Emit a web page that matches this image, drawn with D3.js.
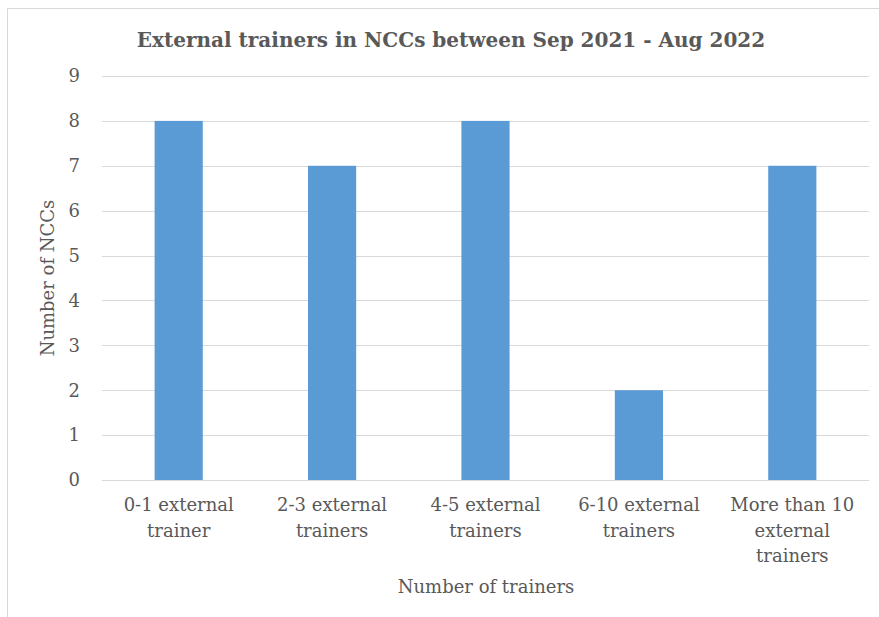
<!DOCTYPE html>
<html><head><meta charset="utf-8">
<script src="https://cdn.jsdelivr.net/npm/d3@7"></script>
<style>body{margin:0;background:#fff}svg{display:block}svg text{font-family:"DejaVu Serif","Liberation Serif",serif}</style>
</head><body>
<script>
const categories = [["0-1 external","trainer"],["2-3 external","trainers"],["4-5 external","trainers"],["6-10 external","trainers"],["More than 10","external","trainers"]];
const values = [8,7,8,2,7];
const yTicks = [0,1,2,3,4,5,6,7,8,9];
const title = "External trainers in NCCs between Sep 2021 - Aug 2022";
const xTitle = "Number of trainers";
const yTitle = "Number of NCCs";

(function(){
const W=879,H=617;
const svg=d3.select("body").append("svg").attr("width",W).attr("height",H);
const txt="#595959";
svg.append("path").attr("d","M7.5,617 V8.5 H879").attr("fill","none").attr("stroke","#d9d9d9").attr("stroke-width",1);

const pL=102,pR=869,pT=76,pB=480;
const x=d3.scaleBand().domain(d3.range(categories.length)).range([pL,pR]).paddingInner(0.686).paddingOuter(0.343);
const y=d3.scaleLinear().domain([0,9]).range([pB,pT]);

const g=svg.append("g");
g.selectAll("line.grid").data(yTicks).join("line")
 .attr("x1",pL).attr("x2",pR).attr("y1",d=>Math.round(y(d))+0.5).attr("y2",d=>Math.round(y(d))+0.5)
 .attr("stroke","#d9d9d9").attr("stroke-width",1);
g.selectAll("rect").data(values).join("rect")
 .attr("x",(d,i)=>x(i)).attr("width",x.bandwidth())
 .attr("y",d=>y(d)).attr("height",d=>y(0)-y(d)).attr("fill","#5b9bd5");
g.selectAll("text.yt").data(yTicks).join("text")
 .attr("x",80).attr("y",d=>y(d)).attr("dy","0.35em").attr("text-anchor","end")
 .attr("font-size",18).attr("fill",txt).text(d=>d);
categories.forEach((lines,i)=>{
  const t=g.append("text").attr("text-anchor","middle").attr("font-size",18).attr("fill",txt);
  lines.forEach((l,j)=>t.append("tspan").attr("x",x(i)+x.bandwidth()/2).attr("y",511+j*25.5).text(l));
});
svg.append("text").attr("x",451).attr("y",47).attr("text-anchor","middle")
 .attr("font-weight","bold").attr("font-size",20).attr("fill",txt).text(title);
svg.append("text").attr("x",486).attr("y",593).attr("text-anchor","middle")
 .attr("font-size",18).attr("fill",txt).text(xTitle);
svg.append("text").attr("transform","translate(54,278) rotate(-90)").attr("text-anchor","middle")
 .attr("font-size",18).attr("fill",txt).text(yTitle);
})();
</script>
</body></html>
